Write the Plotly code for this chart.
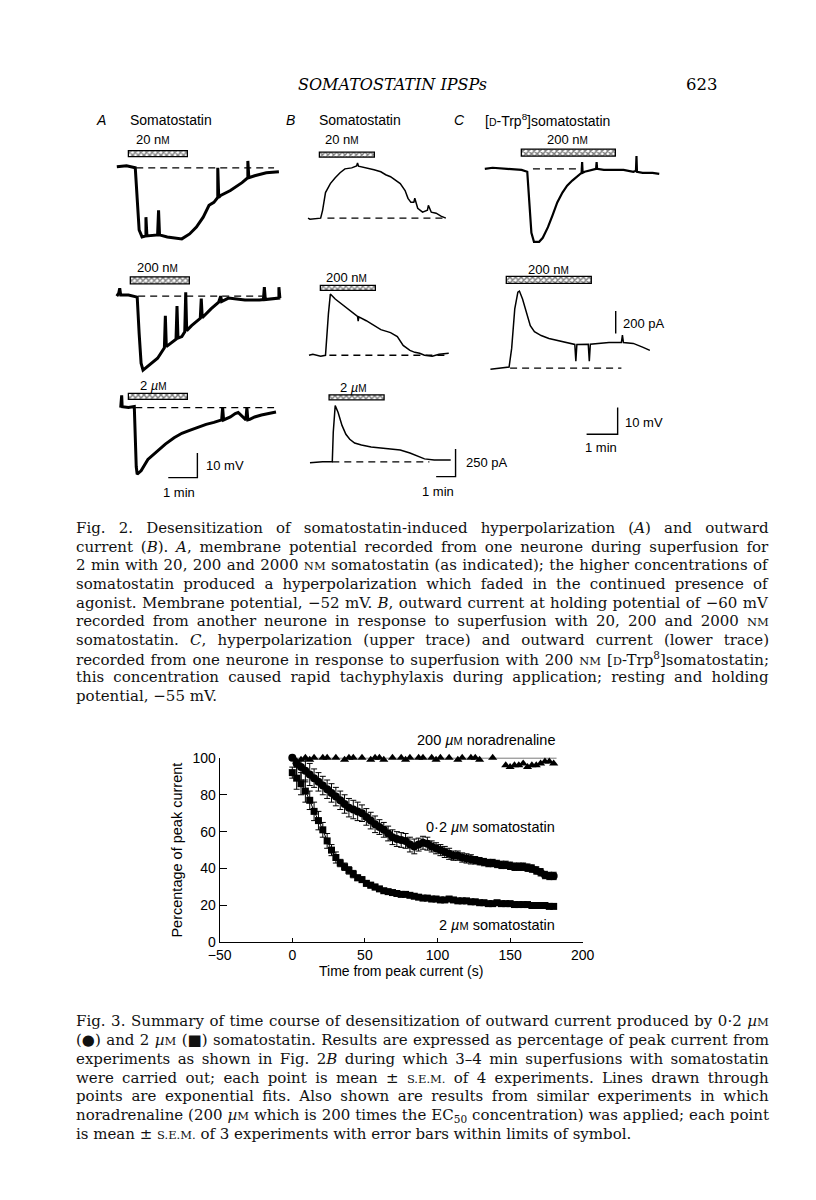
import json
import plotly.graph_objects as go

W, H = 816, 1200
SANS = "Liberation Sans, Arial, sans-serif"
SERIF = "DejaVu Serif, serif"

# ---------------- Fig. 3 data ----------------
t_sst = [0, 3, 6, 9, 12, 15, 18, 21, 24, 27, 30, 33, 36, 39, 42, 45, 48, 51, 54, 57,
         60, 63, 66, 69, 72, 75, 78, 81, 84, 87, 90, 93, 96, 99, 102, 105, 108, 111, 114, 117,
         120, 123, 126, 129, 132, 135, 138, 141, 144, 147, 150, 153, 156, 159, 162, 165, 168, 171, 174, 177, 180]
sst_02 = [100, 97, 95, 93, 91, 89, 87, 85, 83, 81, 79, 77, 75, 73, 72, 71, 70, 68, 66, 64,
          62.5, 61, 59, 57, 56, 55.5, 55, 53, 52, 53, 54, 53.5, 52, 51, 50, 49, 48, 47, 47, 46,
          45.5, 45, 44.5, 44, 43.5, 43, 43, 42.5, 42, 42, 41.5, 41, 41, 41, 40.5, 40, 39, 38, 36.5, 36, 36]
sst_02_err = [1, 7, 7, 6, 6, 5, 5, 5, 5, 5, 5, 5, 5, 5, 5, 5, 4.5, 4.5, 4.5, 4.5,
              4, 4, 4, 4, 4, 4, 4, 4, 4, 3.5, 3.5, 3.5, 3, 3, 3, 3, 3, 2.5, 2.5, 2.5,
              2.5, 2.5, 2, 2, 2, 2, 2, 2, 2, 2, 2, 2, 2, 2, 2, 2, 2, 2, 2, 2, 2]
sst_2 = [92, 89, 86, 82, 77, 71, 66, 61, 55, 50, 46, 43, 41, 39, 37, 35, 34, 32, 31, 30,
         29, 28, 27.5, 27, 26.5, 26, 26, 25.5, 25, 24.5, 24, 24, 23.5, 23.5, 23, 23, 23.5, 23, 22.5, 22.5,
         22.5, 22, 22, 21.5, 21.5, 21, 21, 21.5, 21, 21, 21, 20.5, 20.5, 20.5, 20.5, 20, 20, 20, 20, 19.5, 19.5]
sst_2_err = [3, 6, 6, 6, 5, 5, 5, 4, 4, 3, 3, 2, 2, 2, 2, 1.5, 1.5, 1.5, 1.5, 1.5,
             1, 1, 1, 1, 1, 1, 1, 1, 1, 1, 1, 1, 1, 1, 1, 1, 1, 1, 1, 1,
             1, 1, 1, 1, 1, 1, 1, 1, 1, 1, 1, 1, 1, 1, 1, 1, 1, 1, 1, 1, 1]
t_na = [0, 3, 6, 9, 12, 15, 18, 21, 24, 27, 30, 33, 36, 39, 42, 45, 48, 51, 54, 57,
        60, 63, 66, 69, 72, 75, 78, 81, 84, 87, 90, 93, 96, 99, 102, 105, 108, 111, 114, 117,
        120, 123, 126, 129, 132, 135, 138, 141, 144, 147, 150, 153, 156, 159, 162, 165, 168, 171, 174, 177, 180]
na = [101, 98, 99, 100, 99, 100, 101, 100, 100, 101,
      100, 101, 99, 100, 100, 101, 100, 101, 99, 100,
      100, 99, 101, 100, 101, 100, 99, 100, 101, 100,
      100, 101, 100, 99, 100, 101, 100, 101, 99, 100,
      101, 100, 100, 99, 101, 101, 100, 101, 101, 96,
      95, 96, 96, 97, 95, 96, 96, 97, 98, 98, 97]
na_fit_t = [0, 182]
na_fit = [100, 100]
x_ticks = [-50, 0, 50, 100, 150, 200]
y_ticks = [0, 20, 40, 60, 80, 100]

# ---------------- Fig. 2 data (time s, mV or pA relative to baseline) ----------------
a1_t = [-26, -6, 12, 16, 20, 26, 34, 34, 36, 58, 60, 62, 78, 108, 124, 138, 152, 164, 174, 182, 182, 184, 188, 208, 232, 244, 244, 246, 258, 282, 308]
a1_v = [0.4, 0.8, 0, -15.2, -25.2, -28, -27.6, -20, -27.6, -27.2, -17.2, -27.2, -28, -28.8, -26.8, -24, -20, -15.2, -14, -12, 0, -12, -11.2, -9.2, -6, -4, 2.8, -4, -3.2, -2, -1.6]
a2_t = [-30, -26, -24, -22, -6, 12, 16, 20, 24, 34, 54, 68, 70, 72, 80, 92, 94, 96, 104, 110, 112, 114, 124, 142, 144, 146, 164, 180, 184, 186, 200, 234, 264, 272, 274, 276, 304, 304, 306]
a2_v = [0, 1.2, 3.2, 0.4, 0.4, -0.4, -15.2, -27.2, -30, -28.4, -25.2, -21, -8, -20.5, -19.2, -17.5, -4, -17, -16.4, -14.5, 1.5, -14, -12, -9, -1, -8.8, -5.2, -2.4, 0, -2.2, -0.8, -1.6, -1.6, -1.4, 3.6, -1.4, -0.8, 3.6, -0.8]
a3_t = [-18, -16, -15, -2, 10, 12, 14, 16, 24, 38, 58, 74, 92, 108, 124, 142, 158, 174, 190, 192, 194, 208, 218, 224, 232, 240, 242, 244, 248, 258, 272, 288, 302]
a3_v = [0, 5, 0.4, 0, 0.4, -14, -24, -27, -25.6, -21, -17.6, -14.8, -12.2, -10.4, -9.2, -7.8, -6.8, -6, -5, 0, -5, -3.8, -2.4, -2, -3.4, -5, 0, -5, -4.8, -3.8, -3, -2.2, -1.8]
b1_t = [-36, -30, 3, 9, 18, 33, 48, 63, 78, 99, 114, 117, 120, 144, 168, 189, 204, 219, 234, 249, 264, 273, 282, 291, 294, 303, 318, 333, 336, 345, 360, 375, 390]
b1_v = [0, -9, 0, 71, 232, 313, 366, 411, 446, 455, 473, 500, 470, 455, 438, 420, 393, 375, 348, 313, 250, 179, 143, 143, 180, 89, 54, 71, 116, 54, 45, 18, 0]
b2_t = [-36, -24, 0, 15, 24, 30, 45, 75, 96, 114, 116, 118, 141, 165, 186, 216, 237, 255, 276, 291, 306, 321, 345, 366, 396]
b2_v = [0, 9, -9, 0, 375, 554, 509, 438, 393, 352, 310, 348, 313, 268, 232, 205, 170, 89, 45, 27, 18, 0, -9, 9, 18]
b3_t = [-60, -21, 9, 12, 18, 27, 39, 51, 63, 78, 99, 129, 159, 189, 219, 249, 270, 294, 324, 354, 375]
b3_v = [-9, 0, 0, 268, 509, 446, 330, 250, 205, 170, 152, 134, 125, 116, 107, 80, 54, 27, 18, 18, 18]
c1_t = [-71, -56, -28, 0, 11, 15, 19, 24, 34, 41, 51, 60, 69, 79, 88, 98, 109, 116, 117, 118, 122, 141, 144, 145, 146, 159, 178, 197, 216, 221, 222, 223, 234, 253, 266]
c1_v = [0, 0.4, 0, -0.4, -1.1, -13.7, -24, -27.4, -27.4, -25.9, -21.9, -17.4, -12.6, -8.9, -6.3, -4.4, -2.6, -1.5, 2.5, -1.5, -1.1, 0, 0, 2.5, 0, -0.4, -0.4, -0.4, -1.1, -0.7, 4.8, -1.1, -1.5, -1.5, -1.9]
c2_t = [-32, -9, 4, 9, 15, 21, 24, 30, 38, 45, 53, 66, 81, 98, 113, 131, 133, 135, 157, 159, 161, 174, 197, 221, 223, 225, 244, 263, 276]
c2_v = [-9, 0, 9, 174, 522, 670, 679, 609, 479, 374, 322, 287, 261, 244, 226, 209, 61, 209, 211, 61, 211, 218, 226, 226, 290, 226, 218, 183, 157]

# application bars: start (s), duration (s), level, thickness (trace units)
bar_start = {"a1": 0, "a2": 0, "a3": 0, "b1": 0, "b2": 0, "b3": 0, "c1": 0, "c2": 0}
bar_dur = {"a1": 120, "a2": 120, "a3": 120, "b1": 170, "b2": 170, "b3": 170, "c1": 182, "c2": 165}
bar_level = {"a1": 5.4, "a2": 6.2, "a3": 4.2, "b1": 567, "b2": 603, "b3": 576, "c1": 5.9, "c2": 770}
bar_thick = {"a1": 2.4, "a2": 2.6, "a3": 2.6, "b1": 50, "b2": 50, "b3": 50, "c1": 2.5, "c2": 58}
# dashed baseline extents (s)
base_from = {"a1": 14, "a2": 14, "a3": 12, "b1": 24, "b2": 27, "b3": 9, "c1": 22, "c2": 6}
base_to = {"a1": 298, "a2": 270, "a3": 298, "b1": 390, "b2": 387, "b3": 309, "c1": 116, "c2": 221}
# calibration bars
scale_time = 60        # s
scale_a_mv = 10        # mV
scale_b_pa = 250       # pA
scale_c_pa = 200       # pA
scale_c_mv = 10        # mV

traces_data = {"a1": (a1_t, a1_v), "a2": (a2_t, a2_v), "a3": (a3_t, a3_v),
               "b1": (b1_t, b1_v), "b2": (b2_t, b2_v), "b3": (b3_t, b3_v),
               "c1": (c1_t, c1_v), "c2": (c2_t, c2_v)}

# ---------------- layout helpers ----------------
fig = go.Figure()
axes_layout = {}
counter = [1]


def make_axes(x0, y0, sx, sy, xr, yr):
    """x0,y0: page pixel of data origin; sx, sy: pixels per unit."""
    counter[0] += 1
    n = str(counter[0])
    xd = [(x0 + xr[0] * sx) / W, (x0 + xr[1] * sx) / W]
    yd = [1 - (y0 - yr[0] * sy) / H, 1 - (y0 - yr[1] * sy) / H]
    axes_layout["xaxis" + n] = dict(domain=xd, range=xr, visible=False, anchor="y" + n, fixedrange=True)
    axes_layout["yaxis" + n] = dict(domain=yd, range=yr, visible=False, anchor="x" + n, fixedrange=True)
    return "x" + n, "y" + n


panel_geom = {
    "a1": (121, 162, 0.5, 2.5, [-40, 330], [-35, 12]),
    "a2": (123, 292, 0.5, 2.5, [-40, 330], [-35, 12]),
    "a3": (121, 405, 0.5, 2.5, [-40, 330], [-35, 12]),
    "b1": (317, 213, 1 / 3, 0.112, [-70, 420], [-60, 700]),
    "b2": (318, 352, 1 / 3, 0.112, [-70, 420], [-60, 700]),
    "b3": (327, 460, 1 / 3, 0.112, [-70, 420], [-60, 700]),
    "c1": (525, 163, 0.5333, 2.7, [-90, 300], [-35, 12]),
    "c2": (510, 365, 0.5333, 0.115, [-60, 300], [-60, 900]),
}
line_w = {"a1": 3, "a2": 3, "a3": 3, "b1": 1.5, "b2": 1.5, "b3": 1.5, "c1": 2.2, "c2": 1.5}

for key, (t, v) in traces_data.items():
    xa, ya = make_axes(*panel_geom[key])
    fig.add_trace(go.Scatter(x=t, y=v, mode="lines", xaxis=xa, yaxis=ya,
                             line=dict(color="black", width=line_w[key]), showlegend=False, hoverinfo="skip"))
    fig.add_trace(go.Scatter(x=[base_from[key], base_to[key]], y=[0, 0], mode="lines", xaxis=xa, yaxis=ya,
                             line=dict(color="black", width=1.4, dash="7px,5px"), showlegend=False, hoverinfo="skip"))
    fig.add_trace(go.Bar(y=[bar_level[key]], x=[bar_dur[key]], base=[bar_start[key]], width=[bar_thick[key]],
                         orientation="h", xaxis=xa, yaxis=ya, showlegend=False, hoverinfo="skip",
                         marker=dict(color="white", line=dict(color="black", width=1.3),
                                     pattern=dict(shape="x", fgcolor="black", bgcolor="white", size=4, solidity=0.6))))

# calibration bars
xa, ya = make_axes(191, 476, 0.5, 2.5, [-70, 5], [-3, 13])
fig.add_trace(go.Scatter(x=[-scale_time, 0, 0], y=[0, 0, scale_a_mv], mode="lines", xaxis=xa, yaxis=ya,
                         line=dict(color="black", width=1.4), showlegend=False, hoverinfo="skip"))
xa, ya = make_axes(457, 475, 1 / 3, 0.112, [-70, 5], [-20, 270])
fig.add_trace(go.Scatter(x=[-scale_time, 0, 0], y=[0, 0, scale_b_pa], mode="lines", xaxis=xa, yaxis=ya,
                         line=dict(color="black", width=1.4), showlegend=False, hoverinfo="skip"))
xa, ya = make_axes(622, 330, 0.5333, 0.115, [-5, 5], [-10, 210])
fig.add_trace(go.Scatter(x=[0, 0], y=[0, scale_c_pa], mode="lines", xaxis=xa, yaxis=ya,
                         line=dict(color="black", width=1.4), showlegend=False, hoverinfo="skip"))
xa, ya = make_axes(624, 432, 0.5333, 2.7, [-70, 5], [-2, 12])
fig.add_trace(go.Scatter(x=[-scale_time, 0, 0], y=[0, 0, scale_c_mv], mode="lines", xaxis=xa, yaxis=ya,
                         line=dict(color="black", width=1.4), showlegend=False, hoverinfo="skip"))

# ---------------- Fig. 3 ----------------
fig.add_trace(go.Scatter(x=na_fit_t, y=na_fit, mode="lines", line=dict(color="black", width=1),
                         showlegend=False, hoverinfo="skip", cliponaxis=False))
fig.add_trace(go.Scatter(x=t_na, y=na, mode="markers", cliponaxis=False, showlegend=False,
                         marker=dict(symbol="triangle-up", size=8, color="black")))
fig.add_trace(go.Scatter(x=t_sst, y=sst_02, mode="lines+markers", cliponaxis=False, showlegend=False,
                         line=dict(color="black", width=1),
                         marker=dict(symbol="circle", size=8, color="black"),
                         error_y=dict(type="data", array=sst_02_err, color="black", thickness=1, width=3)))
fig.add_trace(go.Scatter(x=t_sst, y=sst_2, mode="lines+markers", cliponaxis=False, showlegend=False,
                         line=dict(color="black", width=1),
                         marker=dict(symbol="square", size=7, color="black"),
                         error_y=dict(type="data", array=sst_2_err, color="black", thickness=1, width=3)))

axes_layout["xaxis"] = dict(domain=[214 / W, 588 / W], range=[-50, 200], tickvals=x_ticks,
                            ticktext=["\u221250", "0", "50", "100", "150", "200"],
                            showline=True, linecolor="black", linewidth=1.3, ticks="inside", ticklen=4,
                            tickwidth=1.3, tickcolor="black", showgrid=False, zeroline=False,
                            tickfont=dict(family=SANS, size=14, color="black"),
                            title=dict(text="Time from peak current (s)", standoff=3,
                                       font=dict(family=SANS, size=14, color="black")),
                            anchor="y", fixedrange=True)
axes_layout["yaxis"] = dict(domain=[1 - 947 / H, 1 - 760 / H], range=[0, 100], tickvals=y_ticks,
                            showline=True, linecolor="black", linewidth=1.3, ticks="inside", ticklen=7,
                            tickwidth=1.3, tickcolor="black", showgrid=False, zeroline=False,
                            tickfont=dict(family=SANS, size=14, color="black"),
                            title=dict(text="Percentage of peak current", standoff=6,
                                       font=dict(family=SANS, size=14.5, color="black")),
                            anchor="x", fixedrange=True)

# ---------------- text ----------------
ann = []


def text(x, y, s, size=13, family=SANS, anchor="center", color="black"):
    ann.append(dict(x=x / W, y=1 - y / H, xref="paper", yref="paper", text=s, showarrow=False,
                    xanchor=anchor, yanchor="middle", align="left" if anchor == "left" else "center",
                    font=dict(family=family, size=size, color=color)))
    return len(ann) - 1


def sc(s, size):
    return '<span style="font-size:%spx">%s</span>' % (size, s)


nM = "n" + sc("M", 10)
uM = "<i>\u00b5</i>" + sc("M", 10)

text(392, 78, "<i>SOMATOSTATIN IPSPs</i>", size=16, family=SERIF)
text(711, 78, "623", size=16.5, family=SERIF)

text(92, 114, "<i>A</i>", 14)
text(120, 114, "Somatostatin", 14, anchor="left")
text(287, 114, "<i>B</i>", 14)
text(314, 114, "Somatostatin", 14, anchor="left")
text(461, 114, "<i>C</i>", 14)
text(485, 114, "[" + sc("D", 10.5) + "-Trp<sup>8</sup>]somatostatin", 14, anchor="left")

text(145, 133, "20 " + nM)
text(150, 263, "200 " + nM)
text(146, 383, "2 " + uM)
text(340, 133, "20 " + nM)
text(345, 273, "200 " + nM)
text(352, 385, "2 " + uM)
text(572, 133, "200 " + nM)
text(553, 265, "200 " + nM)

text(198, 464, "10 mV", anchor="left")
text(172, 491, "1 min")
text(466, 461, "250 pA", anchor="left")
text(439, 490, "1 min")
text(627, 320, "200 pA", anchor="left")
text(630, 420, "10 mV", anchor="left")
text(607, 445, "1 min")

text(561, 742, "200 " + "<i>\u00b5</i>" + sc("M", 11) + " noradrenaline", 14.5, anchor="right")
text(561, 830, "0\u00b72 " + "<i>\u00b5</i>" + sc("M", 11) + " somatostatin", 14.5, anchor="right")
text(561, 929, "2 " + "<i>\u00b5</i>" + sc("M", 11) + " somatostatin", 14.5, anchor="right")

cap_nm = sc("NM", 11.5)
cap_um = "<i>\u00b5</i>" + sc("M", 11.5)
cap_sem = sc("S.E.M.", 11.5)
fig2_caption = [
    "Fig. 2. Desensitization of somatostatin-induced hyperpolarization (<i>A</i>) and outward",
    "current (<i>B</i>). <i>A</i>, membrane potential recorded from one neurone during superfusion for",
    "2 min with 20, 200 and 2000 " + cap_nm + " somatostatin (as indicated); the higher concentrations of",
    "somatostatin produced a hyperpolarization which faded in the continued presence of",
    "agonist. Membrane potential, \u221252 mV. <i>B</i>, outward current at holding potential of \u221260 mV",
    "recorded from another neurone in response to superfusion with 20, 200 and 2000 " + cap_nm,
    "somatostatin. <i>C</i>, hyperpolarization (upper trace) and outward current (lower trace)",
    "recorded from one neurone in response to superfusion with 200 " + cap_nm + " [" + sc("D", 11.5) + "-Trp<sup>8</sup>]somatostatin;",
    "this concentration caused rapid tachyphylaxis during application; resting and holding",
    "potential, \u221255 mV.",
]
fig3_caption = [
    "Fig. 3. Summary of time course of desensitization of outward current produced by 0\u00b72 " + cap_um,
    "(\u25cf) and 2 " + cap_um + " (\u25a0) somatostatin. Results are expressed as percentage of peak current from",
    "experiments as shown in Fig. 2<i>B</i> during which 3\u20134 min superfusions with somatostatin",
    "were carried out; each point is mean \u00b1 " + cap_sem + " of 4 experiments. Lines drawn through",
    "points are exponential fits. Also shown are results from similar experiments in which",
    "noradrenaline (200 " + cap_um + " which is 200 times the EC<sub>50</sub> concentration) was applied; each point",
    "is mean \u00b1 " + cap_sem + " of 3 experiments with error bars within limits of symbol.",
]
justify = []
for i, line in enumerate(fig2_caption):
    k = text(64, 527 + i * 18.9, line, 15, SERIF, anchor="left", color="#111")
    if i < len(fig2_caption) - 1:
        justify.append(k)
for i, line in enumerate(fig3_caption):
    k = text(64, 1027 + i * 19, line, 15, SERIF, anchor="left", color="#111")
    if i < len(fig3_caption) - 1:
        justify.append(k)

fig.update_layout(width=W, height=H, margin=dict(l=0, r=0, t=0, b=0),
                  paper_bgcolor="white", plot_bgcolor="rgba(0,0,0,0)",
                  showlegend=False, annotations=ann, bargap=0, **axes_layout)

post = """
document.body.style.margin = '0';
document.body.style.padding = '0';
document.body.style.overflow = 'hidden';
var gd = document.getElementById('{plot_id}');
var just = %s;
var target = %d;
just.forEach(function(i) {
  var t = gd.querySelector('.annotation[data-index="' + i + '"] text.annotation-text');
  if (!t) return;
  var w = t.getBBox().width;
  var n = (t.textContent.match(/[ \\u00a0]/g) || []).length;
  if (n > 0 && w > 0) { t.style.wordSpacing = ((target - w) / n) + 'px'; }
});
""" % (json.dumps(justify), 757 - 64)

fig.write_html("out.html", config={"displayModeBar": False}, post_script=post)
